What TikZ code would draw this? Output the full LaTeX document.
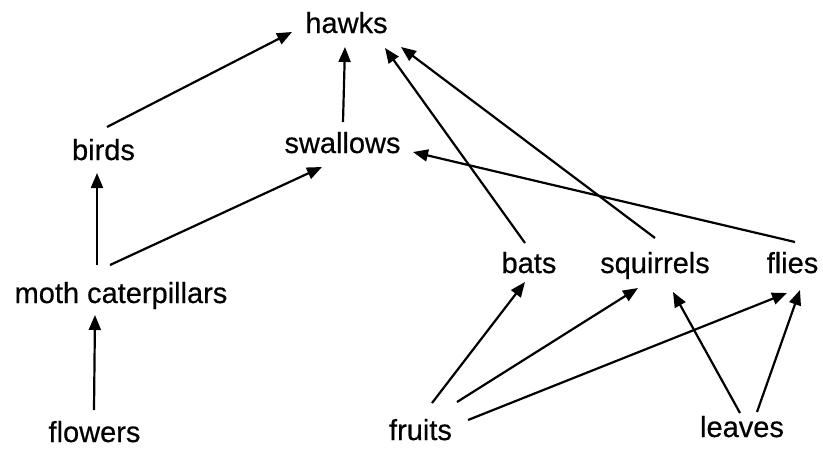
\documentclass[tikz,border=0pt]{standalone}
\usepackage{fontspec}
\setmainfont{Liberation Sans}[FakeBold=0.5]
\usetikzlibrary{arrows.meta,calc}
\begin{document}
\begin{tikzpicture}[x=1pt,y=-1pt,
  lbl/.style={anchor=base,inner sep=0pt,font=\fontsize{29}{32}\selectfont},
  feed/.style={line width=2.2pt,-{Triangle[length=15pt,width=12pt]},black}]
\useasboundingbox (0,0) rectangle (823,448);
\node[lbl] (hawks) at (346.5,33) {hawks};
\node[lbl] (birds) at (103.5,160) {birds};
\node[lbl] (swallows) at (342.5,153) {swallows};
\node[lbl] (moth) at (121,303) {moth caterpillars};
\node[lbl] (bats) at (529,273) {bats};
\node[lbl] (squirrels) at (655,273) {squirrels};
\node[lbl] (flies) at (792.5,273) {flies};
\node[lbl] (flowers) at (94.5,442) {flowers};
\node[lbl] (fruits) at (420.5,440) {fruits};
\node[lbl] (leaves) at (742,437) {leaves};
\draw[feed] ($(birds.base)+(3.5,-33)$) -- ($(hawks.base)+(-54.5,-1)$);
\draw[feed] ($(swallows.base)+(0.5,-31)$) -- ($(hawks.base)+(-1.5,14)$);
\draw[feed] ($(moth.base)+(-24,-38)$) -- ($(birds.base)+(-6.5,13)$);
\draw[feed] ($(moth.base)+(-11,-38)$) -- ($(swallows.base)+(-20.5,14)$);
\draw[feed] ($(flowers.base)+(-0.5,-32)$) -- ($(moth.base)+(-26,12)$);
\draw[feed] ($(bats.base)+(-4,-30)$) -- ($(hawks.base)+(38.5,15)$);
\draw[feed] ($(squirrels.base)+(0,-35)$) -- ($(hawks.base)+(54.5,14)$);
\draw[feed] ($(flies.base)+(2.5,-31)$) -- ($(swallows.base)+(70.5,-1)$);
\draw[feed] ($(fruits.base)+(11.5,-37)$) -- ($(bats.base)+(-4,9)$);
\draw[feed] ($(fruits.base)+(36.5,-38)$) -- ($(squirrels.base)+(-17,15)$);
\draw[feed] ($(fruits.base)+(47.5,-20)$) -- ($(flies.base)+(-5.5,20)$);
\draw[feed] ($(leaves.base)+(-2,-24)$) -- ($(squirrels.base)+(18,19)$);
\draw[feed] ($(leaves.base)+(15,-25)$) -- ($(flies.base)+(7.5,17)$);
\end{tikzpicture}
\end{document}
